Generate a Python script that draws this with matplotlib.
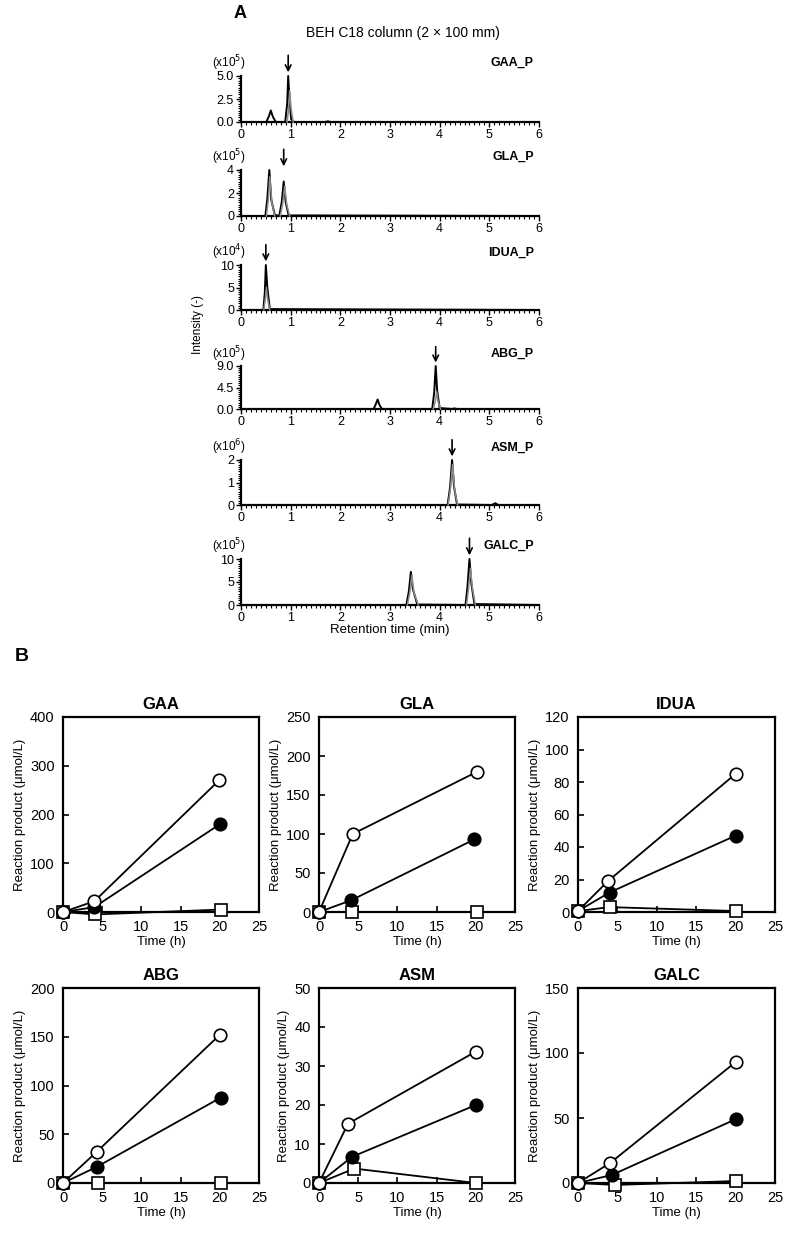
import matplotlib
matplotlib.use("Agg")
import matplotlib.pyplot as plt
from matplotlib.ticker import MultipleLocator

plt.rcParams['font.family'] = ['Liberation Sans', 'DejaVu Sans']

W, H = 788, 1240
NA = float('nan')

# ---------------- Panel A data (chromatograms) ----------------
chrom_names = ["GAA_P", "GLA_P", "IDUA_P", "ABG_P", "ASM_P", "GALC_P"]
chrom_exp = ["5", "5", "4", "5", "6", "5"]
chrom_ymax = [5.0, 4, 10, 9.0, 2, 10]
chrom_yticks = [[0.0, 2.5, 5.0], [0, 2, 4], [0, 5, 10], [0.0, 4.5, 9.0], [0, 1, 2], [0, 5, 10]]
chrom_yfmt = ["%.1f", "%d", "%d", "%.1f", "%d", "%d"]
chrom_yminor = [0.25, 0.2, 0.5, 0.45, 0.1, 0.5]
chrom_arrow = [0.95, 0.86, 0.50, 3.92, 4.25, 4.60]

# black traces (retention time, intensity)
black_x = [
    [0, 0.51, 0.56, 0.60, 0.64, 0.70, 0.89, 0.93, 0.95, 0.98, 1.01, 1.07, 1.70, 1.75, 1.80, 6.0],
    [0, 0.49, 0.53, 0.57, 0.61, 0.68, 0.77, 0.82, 0.86, 0.90, 0.96, 6.0],
    [0, 0.45, 0.48, 0.50, 0.53, 0.58, 6.0],
    [0, 2.67, 2.71, 2.75, 2.79, 2.84, 3.85, 3.89, 3.92, 3.95, 4.00, 4.25, 4.30, 4.35, 6.0],
    [0, 4.16, 4.21, 4.25, 4.29, 4.35, 5.05, 5.12, 5.18, 6.0],
    [0, 3.33, 3.38, 3.42, 3.46, 3.55, 4.52, 4.56, 4.60, 4.64, 4.70, 6.0],
]
black_y = [
    [0, 0, 0.6, 1.25, 0.6, 0, 0, 2.0, 5.0, 2.2, 0.3, 0, 0, 0.08, 0, 0],
    [0, 0, 1.5, 4.0, 1.4, 0.1, 0, 1.2, 3.0, 1.2, 0.05, 0],
    [0, 0, 4.0, 10.0, 5.0, 0.2, 0],
    [0, 0, 0.9, 2.0, 0.8, 0, 0, 3.5, 9.0, 3.8, 0.2, 0, 0.12, 0, 0],
    [0, 0, 0.8, 2.0, 0.8, 0.02, 0, 0.08, 0, 0],
    [0, 0, 3.0, 7.2, 3.5, 0.1, 0, 4.0, 10.0, 4.5, 0.2, 0],
]
# grey traces (NaN separates peaks)
grey_x = [
    [0.93, 0.96, 0.98, 1.01, 1.05],
    [0.51, 0.55, 0.58, 0.62, 0.68, NA, 0.79, 0.84, 0.88, 0.92, 0.98],
    [0.46, 0.49, 0.51, 0.54, 0.58],
    [3.87, 3.91, 3.94, 3.97, 4.02],
    [4.17, 4.22, 4.26, 4.30, 4.36],
    [3.35, 3.40, 3.44, 3.48, 3.57, NA, 4.54, 4.58, 4.62, 4.66, 4.72],
]
grey_y = [
    [0, 1.5, 3.4, 1.4, 0],
    [0, 1.4, 3.4, 1.2, 0, NA, 0, 1.1, 2.6, 1.0, 0],
    [0, 2.5, 5.0, 2.2, 0],
    [0, 1.5, 3.6, 1.5, 0],
    [0, 0.8, 1.8, 0.7, 0],
    [0, 2.8, 6.5, 2.8, 0, NA, 0, 3.5, 8.0, 3.5, 0],
]

# ---------------- Panel B data (time courses) ----------------
enz_names = ["GAA", "GLA", "IDUA", "ABG", "ASM", "GALC"]
enz_ymax = [400, 250, 120, 200, 50, 150]
enz_ystep = [100, 50, 20, 50, 10, 50]

open_t = [[0, 4.0, 19.9], [0, 4.3, 20.2], [0, 3.8, 20.0], [0, 4.3, 20.0], [0, 3.7, 20.0], [0, 4.1, 20.0]]
open_v = [[0, 22, 270], [0, 100, 180], [0.6, 19, 85], [0, 32, 152], [0, 15.2, 33.7], [0, 15.5, 93]]
fill_t = [[0, 4.0, 20.0], [0, 4.1, 19.8], [0, 4.0, 20.0], [0, 4.3, 20.1], [0, 4.2, 20.0], [0, 4.3, 20.0]]
fill_v = [[0, 10, 180], [0, 15, 93], [0.6, 12, 47], [0, 16.5, 87.5], [0, 6.7, 20], [0, 6.2, 49]]
sq_t = [[0, 4.1, 20.2], [0, 4.2, 20.2], [0, 4.0, 20.0], [0, 4.5, 20.1], [0, 4.5, 20.0], [0, 4.7, 20.0]]
sq_v = [[0, -5, 5], [0, 0, 0], [0.6, 3, 0.6], [0, 0, 0], [0, 3.7, 0], [0, -1.5, 1.5]]

fig = plt.figure(figsize=(W / 100, H / 100), dpi=100)


def add_ax(left, top, right, bottom):
    return fig.add_axes([left / W, 1 - bottom / H, (right - left) / W, (bottom - top) / H])


# ---------------- Panel A ----------------
tops = [76, 170, 265, 366, 460, 559]
bots = [122, 216, 310, 409, 505, 605]
for i in range(6):
    ax = add_ax(241, tops[i], 539, bots[i])
    ymax = chrom_ymax[i]
    ax.plot(black_x[i], black_y[i], color='black', lw=1.4, clip_on=False, zorder=3)
    ax.plot(grey_x[i], grey_y[i], color='#8a8a8a', lw=1.1, clip_on=False, zorder=4)
    ax.set_xlim(0, 6)
    ax.set_ylim(0, ymax)
    for s in ['top', 'right']:
        ax.spines[s].set_visible(False)
    ax.spines['left'].set_linewidth(1.6)
    ax.spines['bottom'].set_linewidth(1.6)
    ax.set_xticks(range(7))
    ax.xaxis.set_minor_locator(MultipleLocator(0.1))
    ax.set_yticks(chrom_yticks[i])
    ax.set_yticklabels([chrom_yfmt[i] % v for v in chrom_yticks[i]])
    ax.yaxis.set_minor_locator(MultipleLocator(chrom_yminor[i]))
    ax.tick_params(which='major', direction='out', length=3.5, width=1.0, labelsize=9, pad=1.5)
    ax.tick_params(which='minor', direction='out', length=2, width=0.8)
    ax.patch.set_visible(False)
    ax.text(-0.098, 1.28, r'(x10$^{%s}$)' % chrom_exp[i], transform=ax.transAxes,
            fontsize=8.5, ha='left', va='center')
    ax.text(0.982, 1.28, chrom_names[i], transform=ax.transAxes,
            fontsize=9, fontweight='bold', ha='right', va='center')
    ax.annotate('', xy=(chrom_arrow[i], ymax * 1.08), xytext=(chrom_arrow[i], ymax * 1.45),
                xycoords='data', annotation_clip=False,
                arrowprops=dict(arrowstyle='->', lw=1.2, color='black',
                                shrinkA=0, shrinkB=0, mutation_scale=10))
    if i == 5:
        ax.set_xlabel('Retention time (min)', fontsize=9.5, labelpad=0)

fig.text(403 / W, 1 - 33 / H, 'BEH C18 column (2 × 100 mm)', fontsize=10, ha='center', va='center')
fig.text(240 / W, 1 - 14 / H, 'A', fontsize=13, fontweight='bold', ha='center', va='center')
fig.text(198 / W, 1 - 325 / H, 'Intensity (-)', fontsize=8.5, rotation=90, ha='center', va='center')

# ---------------- Panel B ----------------
cols = [(63, 259), (319, 515), (578, 775)]
rows = [(717, 912), (988, 1183)]
for i in range(6):
    r, c = divmod(i, 3)
    ax = add_ax(cols[c][0], rows[r][0], cols[c][1], rows[r][1])
    ax.plot(sq_t[i], sq_v[i], color='black', lw=1.3, marker='s', ms=9,
            mfc='white', mec='black', mew=1.2, clip_on=False, zorder=3)
    ax.plot(fill_t[i], fill_v[i], color='black', lw=1.3, marker='o', ms=9,
            mfc='black', mec='black', mew=1.2, clip_on=False, zorder=4)
    ax.plot(open_t[i], open_v[i], color='black', lw=1.3, marker='o', ms=9,
            mfc='white', mec='black', mew=1.2, clip_on=False, zorder=5)
    ax.set_xlim(0, 25)
    ax.set_ylim(0, enz_ymax[i])
    ax.set_xticks([0, 5, 10, 15, 20, 25])
    ax.yaxis.set_major_locator(MultipleLocator(enz_ystep[i]))
    for s in ax.spines.values():
        s.set_linewidth(1.6)
    ax.tick_params(direction='in', length=4, width=1.2, labelsize=10.5, pad=6)
    ax.set_title(enz_names[i], fontsize=12, fontweight='bold', pad=6)
    ax.set_ylabel('Reaction product (μmol/L)', fontsize=9.5, labelpad=3)
    ax.set_xlabel('Time (h)', fontsize=9.5, labelpad=1)

fig.text(22 / W, 1 - 657 / H, 'B', fontsize=14, fontweight='bold', ha='center', va='center')

fig.savefig('out.png', dpi=100)
